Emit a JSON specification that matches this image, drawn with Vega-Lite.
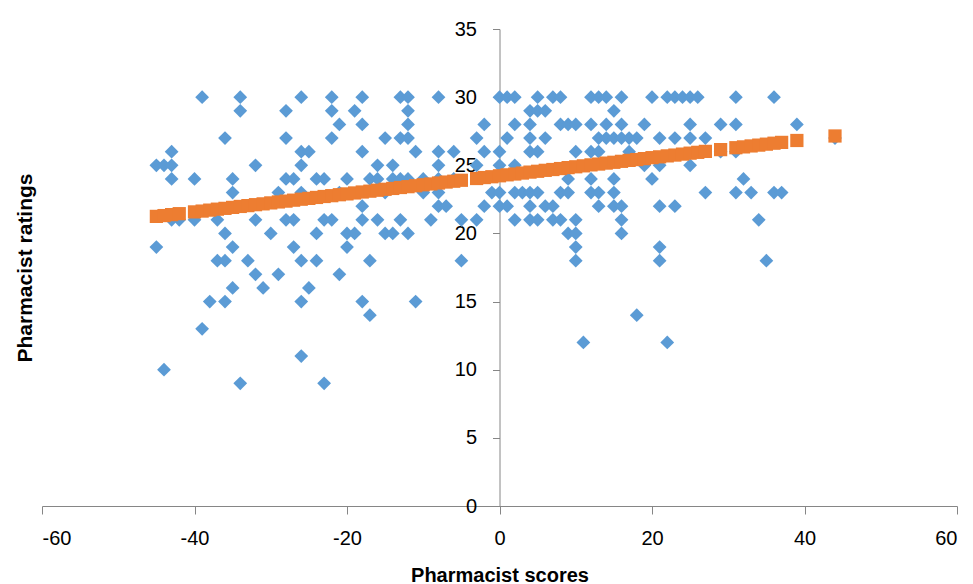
{
  "$schema": "https://vega.github.io/schema/vega-lite/v6.json",
  "autosize": {"type": "none"},
  "width": 915,
  "height": 477,
  "padding": {"left": 42, "top": 29, "right": 16, "bottom": 78},
  "background": "white",
  "config": {"view": {"stroke": null}, "font": "Liberation Sans"},
  "datasets": {
    "obs": [
      {"x":-39,"y":30},{"x":-34,"y":30},{"x":-26,"y":30},{"x":-22,"y":30},{"x":-18,"y":30},{"x":-13,"y":30},{"x":-12,"y":30},{"x":-8,"y":30},
      {"x":-34,"y":29},{"x":-28,"y":29},{"x":-22,"y":29},{"x":-19,"y":29},{"x":-12,"y":29},
      {"x":-21,"y":28},{"x":-18,"y":28},{"x":-12,"y":28},{"x":-2,"y":28},
      {"x":-36,"y":27},{"x":-28,"y":27},{"x":-22,"y":27},{"x":-15,"y":27},{"x":-13,"y":27},{"x":-12,"y":27},{"x":-3,"y":27},
      {"x":-43,"y":26},{"x":-26,"y":26},{"x":-25,"y":26},{"x":-18,"y":26},{"x":-11,"y":26},{"x":-8,"y":26},{"x":-6,"y":26},{"x":-2,"y":26},
      {"x":-45,"y":25},{"x":-44,"y":25},{"x":-43,"y":25},{"x":-32,"y":25},{"x":-26,"y":25},{"x":-16,"y":25},{"x":-14,"y":25},{"x":-8,"y":25},{"x":-3,"y":25},
      {"x":-43,"y":24},{"x":-40,"y":24},{"x":-35,"y":24},{"x":-28,"y":24},{"x":-27,"y":24},{"x":-24,"y":24},{"x":-23,"y":24},{"x":-20,"y":24},{"x":-17,"y":24},{"x":-16,"y":24},{"x":-14,"y":24},{"x":-13,"y":24},{"x":-12,"y":24},{"x":-10,"y":24},{"x":-8,"y":24},{"x":-6,"y":24},
      {"x":-35,"y":23},{"x":-29,"y":23},{"x":-26,"y":23},{"x":-21,"y":23},{"x":-15,"y":23},{"x":-10,"y":23},{"x":-8,"y":23},{"x":-1,"y":23},
      {"x":-18,"y":22},{"x":-8,"y":22},{"x":-7,"y":22},{"x":-2,"y":22},
      {"x":-43,"y":21},{"x":-42,"y":21},{"x":-40,"y":21},{"x":-37,"y":21},{"x":-32,"y":21},{"x":-28,"y":21},{"x":-27,"y":21},{"x":-23,"y":21},{"x":-22,"y":21},{"x":-18,"y":21},{"x":-16,"y":21},{"x":-13,"y":21},{"x":-9,"y":21},{"x":-5,"y":21},{"x":-3,"y":21},
      {"x":-36,"y":20},{"x":-30,"y":20},{"x":-24,"y":20},{"x":-20,"y":20},{"x":-19,"y":20},{"x":-15,"y":20},{"x":-14,"y":20},{"x":-12,"y":20},
      {"x":-45,"y":19},{"x":-35,"y":19},{"x":-27,"y":19},{"x":-20,"y":19},
      {"x":-37,"y":18},{"x":-36,"y":18},{"x":-33,"y":18},{"x":-26,"y":18},{"x":-24,"y":18},{"x":-17,"y":18},{"x":-5,"y":18},
      {"x":-32,"y":17},{"x":-29,"y":17},{"x":-21,"y":17},
      {"x":-35,"y":16},{"x":-31,"y":16},{"x":-25,"y":16},
      {"x":-38,"y":15},{"x":-36,"y":15},{"x":-26,"y":15},{"x":-18,"y":15},{"x":-11,"y":15},
      {"x":-17,"y":14},{"x":-39,"y":13},{"x":-26,"y":11},{"x":-44,"y":10},{"x":-34,"y":9},{"x":-23,"y":9},
      {"x":0,"y":30},{"x":1,"y":30},{"x":2,"y":30},{"x":5,"y":30},{"x":7,"y":30},{"x":8,"y":30},{"x":12,"y":30},{"x":13,"y":30},{"x":14,"y":30},{"x":16,"y":30},{"x":20,"y":30},{"x":22,"y":30},{"x":23,"y":30},{"x":24,"y":30},{"x":25,"y":30},{"x":26,"y":30},{"x":31,"y":30},{"x":36,"y":30},
      {"x":4,"y":29},{"x":5,"y":29},{"x":6,"y":29},{"x":15,"y":29},
      {"x":2,"y":28},{"x":4,"y":28},{"x":8,"y":28},{"x":9,"y":28},{"x":10,"y":28},{"x":12,"y":28},{"x":14,"y":28},{"x":16,"y":28},{"x":19,"y":28},{"x":25,"y":28},{"x":29,"y":28},{"x":31,"y":28},{"x":39,"y":28},
      {"x":1,"y":27},{"x":4,"y":27},{"x":6,"y":27},{"x":13,"y":27},{"x":14,"y":27},{"x":15,"y":27},{"x":16,"y":27},{"x":17,"y":27},{"x":18,"y":27},{"x":21,"y":27},{"x":23,"y":27},{"x":25,"y":27},{"x":27,"y":27},{"x":44,"y":27},
      {"x":0,"y":26},{"x":4,"y":26},{"x":5,"y":26},{"x":10,"y":26},{"x":12,"y":26},{"x":13,"y":26},{"x":17,"y":26},{"x":29,"y":26},{"x":31,"y":26},
      {"x":0,"y":25},{"x":2,"y":25},{"x":19,"y":25},{"x":21,"y":25},{"x":25,"y":25},
      {"x":9,"y":24},{"x":12,"y":24},{"x":15,"y":24},{"x":20,"y":24},{"x":32,"y":24},
      {"x":0,"y":23},{"x":2,"y":23},{"x":3,"y":23},{"x":4,"y":23},{"x":5,"y":23},{"x":8,"y":23},{"x":9,"y":23},{"x":12,"y":23},{"x":13,"y":23},{"x":15,"y":23},{"x":27,"y":23},{"x":31,"y":23},{"x":33,"y":23},{"x":36,"y":23},{"x":37,"y":23},
      {"x":0,"y":22},{"x":1,"y":22},{"x":4,"y":22},{"x":6,"y":22},{"x":7,"y":22},{"x":13,"y":22},{"x":15,"y":22},{"x":16,"y":22},{"x":21,"y":22},{"x":23,"y":22},
      {"x":2,"y":21},{"x":4,"y":21},{"x":5,"y":21},{"x":7,"y":21},{"x":8,"y":21},{"x":10,"y":21},{"x":16,"y":21},{"x":34,"y":21},
      {"x":9,"y":20},{"x":10,"y":20},{"x":16,"y":20},
      {"x":10,"y":19},{"x":21,"y":19},
      {"x":10,"y":18},{"x":21,"y":18},{"x":35,"y":18},
      {"x":18,"y":14},{"x":11,"y":12},{"x":22,"y":12}
    ],
    "trend": [
      {"x":-45,"y":21.25},{"x":-44,"y":21.31},{"x":-43,"y":21.38},{"x":-42,"y":21.45},{"x":-40,"y":21.58},{"x":-39,"y":21.64},{"x":-38,"y":21.71},{"x":-37,"y":21.78},{"x":-36,"y":21.84},{"x":-35,"y":21.91},{"x":-34,"y":21.98},{"x":-33,"y":22.04},{"x":-32,"y":22.11},{"x":-31,"y":22.17},{"x":-30,"y":22.24},{"x":-29,"y":22.31},{"x":-28,"y":22.37},{"x":-27,"y":22.44},{"x":-26,"y":22.51},{"x":-25,"y":22.57},{"x":-24,"y":22.64},{"x":-23,"y":22.71},{"x":-22,"y":22.77},{"x":-21,"y":22.84},{"x":-20,"y":22.9},{"x":-19,"y":22.97},{"x":-18,"y":23.04},{"x":-17,"y":23.1},{"x":-16,"y":23.17},{"x":-15,"y":23.24},{"x":-14,"y":23.3},{"x":-13,"y":23.37},{"x":-12,"y":23.43},{"x":-11,"y":23.5},{"x":-10,"y":23.57},{"x":-9,"y":23.63},{"x":-8,"y":23.7},{"x":-7,"y":23.77},{"x":-6,"y":23.83},{"x":-5,"y":23.9},{"x":-3,"y":24.03},{"x":-2,"y":24.1},{"x":-1,"y":24.16},
      {"x":0,"y":24.23},{"x":1,"y":24.3},{"x":2,"y":24.36},{"x":3,"y":24.43},{"x":4,"y":24.5},{"x":5,"y":24.56},{"x":6,"y":24.63},{"x":7,"y":24.69},{"x":8,"y":24.76},{"x":9,"y":24.83},{"x":10,"y":24.89},{"x":11,"y":24.96},{"x":12,"y":25.03},{"x":13,"y":25.09},{"x":14,"y":25.16},{"x":15,"y":25.22},{"x":16,"y":25.29},{"x":17,"y":25.36},{"x":18,"y":25.42},{"x":19,"y":25.49},{"x":20,"y":25.56},{"x":21,"y":25.62},{"x":22,"y":25.69},{"x":23,"y":25.75},{"x":24,"y":25.82},{"x":25,"y":25.89},{"x":26,"y":25.95},{"x":27,"y":26.02},{"x":29,"y":26.15},{"x":31,"y":26.29},{"x":32,"y":26.35},{"x":33,"y":26.42},{"x":34,"y":26.48},{"x":35,"y":26.55},{"x":36,"y":26.62},{"x":37,"y":26.68},{"x":39,"y":26.82},{"x":44,"y":27.15}
    ]
  },
  "layer": [
    {
      "data": {"name": "obs"},
      "mark": {"type": "point", "shape": "diamond", "filled": true, "size": 190, "color": "#5B9BD5", "opacity": 1},
      "encoding": {
        "x": {"field": "x", "type": "quantitative",
          "scale": {"domain": [-60, 60], "nice": false, "zero": false},
          "axis": {"title": "Pharmacist scores", "values": [-60,-40,-20,0,20,40,60], "grid": false,
            "labelExpr": "'' + datum.value",
            "domainColor": "#868686", "tickColor": "#868686", "tickSize": 8,
            "labelFontSize": 20, "labelColor": "#000000", "labelPadding": 14, "labelFont": "Liberation Sans",
            "titleFontSize": 20, "titleFontWeight": "bold", "titleColor": "#000000", "titleFont": "Liberation Sans",
            "titleBaseline": "alphabetic", "titleY": 75, "titleX": 457.5}},
        "y": {"field": "y", "type": "quantitative",
          "scale": {"domain": [0, 35], "nice": false, "zero": false},
          "axis": {"title": "Pharmacist ratings", "values": [0,5,10,15,20,25,30,35], "grid": false, "offset": -457.5,
            "domainColor": "#868686", "tickColor": "#868686", "tickSize": 7,
            "labelFontSize": 20, "labelColor": "#000000", "labelPadding": 16, "labelFont": "Liberation Sans",
            "titleFontSize": 21, "titleFontWeight": "bold", "titleColor": "#000000", "titleFont": "Liberation Sans",
            "titleAngle": -90, "titleBaseline": "alphabetic", "titleX": -468, "titleY": 238.5}}
      }
    },
    {
      "data": {"name": "trend"},
      "mark": {"type": "point", "shape": "square", "filled": true, "size": 175, "color": "#ED7D31", "opacity": 1},
      "encoding": {
        "x": {"field": "x", "type": "quantitative"},
        "y": {"field": "y", "type": "quantitative"}
      }
    }
  ]
}
